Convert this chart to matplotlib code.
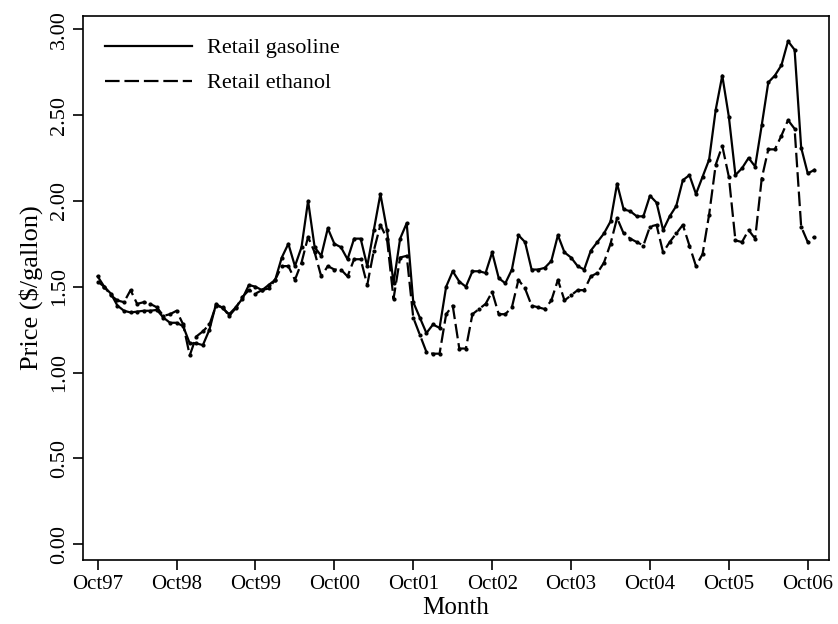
import matplotlib
matplotlib.use("Agg")
import matplotlib.pyplot as plt
from matplotlib.lines import Line2D
import numpy as np

# Monthly prices, Oct 1997 .. Nov 2006 ($/gallon)
gasoline = [1.56, 1.50, 1.46, 1.39, 1.36, 1.35, 1.355, 1.36, 1.36, 1.365,
            1.32, 1.29, 1.29, 1.27, 1.17, 1.17, 1.16, 1.25, 1.40, 1.375,
            1.34, 1.38, 1.43, 1.51, 1.50, 1.48, 1.51, 1.54, 1.67, 1.75,
            1.62, 1.73, 2.00, 1.73, 1.68, 1.84, 1.75, 1.73, 1.66, 1.78,
            1.78, 1.62, 1.83, 2.04, 1.83, 1.52, 1.78, 1.87, 1.41, 1.32,
            1.23, 1.28, 1.26, 1.50, 1.59, 1.53, 1.50, 1.59, 1.59, 1.58,
            1.70, 1.55, 1.52, 1.60, 1.80, 1.76, 1.60, 1.60, 1.61, 1.65,
            1.80, 1.70, 1.67, 1.62, 1.60, 1.71, 1.76, 1.81, 1.88, 2.10,
            1.95, 1.94, 1.91, 1.91, 2.03, 1.99, 1.83, 1.91, 1.97, 2.12,
            2.15, 2.04, 2.14, 2.24, 2.53, 2.73, 2.49, 2.15, 2.19, 2.25,
            2.20, 2.44, 2.69, 2.73, 2.79, 2.93, 2.88, 2.31, 2.16, 2.18]

ethanol = [1.53, 1.50, 1.45, 1.42, 1.41, 1.48, 1.40, 1.41, 1.40, 1.38,
           1.33, 1.34, 1.36, 1.28, 1.10, 1.21, 1.24, 1.28, 1.39, 1.38,
           1.33, 1.375, 1.44, 1.48, 1.46, 1.48, 1.49, 1.54, 1.62, 1.62,
           1.54, 1.64, 1.79, 1.70, 1.56, 1.62, 1.60, 1.60, 1.56, 1.66,
           1.66, 1.51, 1.71, 1.86, 1.78, 1.43, 1.67, 1.68, 1.32, 1.22,
           1.12, 1.11, 1.11, 1.34, 1.39, 1.14, 1.14, 1.34, 1.37, 1.40,
           1.47, 1.34, 1.34, 1.38, 1.54, 1.49, 1.39, 1.38, 1.37, 1.42,
           1.54, 1.42, 1.45, 1.48, 1.48, 1.56, 1.58, 1.64, 1.75, 1.90,
           1.81, 1.78, 1.76, 1.74, 1.85, 1.86, 1.70, 1.76, 1.81, 1.86,
           1.74, 1.62, 1.69, 1.92, 2.21, 2.32, 2.14, 1.77, 1.76, 1.83,
           1.78, 2.13, 2.30, 2.30, 2.38, 2.47, 2.42, 1.85, 1.76, 1.79]

tick_labels = ["Oct97", "Oct98", "Oct99", "Oct00", "Oct01",
               "Oct02", "Oct03", "Oct04", "Oct05", "Oct06"]
y_ticks = [0.0, 0.5, 1.0, 1.5, 2.0, 2.5, 3.0]

plt.rcParams['font.family'] = ['Liberation Serif', 'DejaVu Serif']
plt.rcParams['lines.scale_dashes'] = False
DASH = (0, (10.5, 3.5))

fig = plt.figure(figsize=(8.38, 6.24), dpi=100)
ax = fig.add_axes([0.099, 0.103, 0.890, 0.872])

months = np.arange(len(gasoline))
ax.plot(months, gasoline, color='black', lw=1.6, marker='o', ms=2.0)
ax.plot(months, ethanol, color='black', lw=1.6, ls=DASH, marker='o', ms=2.0)

ax.set_xlim(-2.24, 111.2)
ax.set_ylim(-0.09, 3.079)
ax.set_xticks(np.arange(0, 12 * len(tick_labels), 12))
ax.set_xticklabels(tick_labels, fontsize=15)
ax.set_yticks(y_ticks)
ax.set_yticklabels([f"{v:.2f}" for v in y_ticks], fontsize=16,
                   rotation=90, va='center')
ax.tick_params(axis='both', direction='out', length=7, width=1.2, color='black')
ax.tick_params(axis='x', pad=4)
ax.tick_params(axis='y', pad=3)
for s in ax.spines.values():
    s.set_linewidth(1.2)

ax.set_xlabel("Month", fontsize=18, labelpad=2)
ax.set_ylabel("Price ($/gallon)", fontsize=19, labelpad=5)

handles = [Line2D([], [], color='black', lw=1.6),
           Line2D([], [], color='black', lw=1.6, ls=DASH)]
ax.legend(handles, ['Retail gasoline', 'Retail ethanol'],
          loc='upper left', bbox_to_anchor=(0.0, 1.0), frameon=False,
          fontsize=16, handlelength=3.9, handletextpad=0.7,
          labelspacing=0.65, borderaxespad=0.65, borderpad=0.35)

fig.savefig("out.png", dpi=100)
